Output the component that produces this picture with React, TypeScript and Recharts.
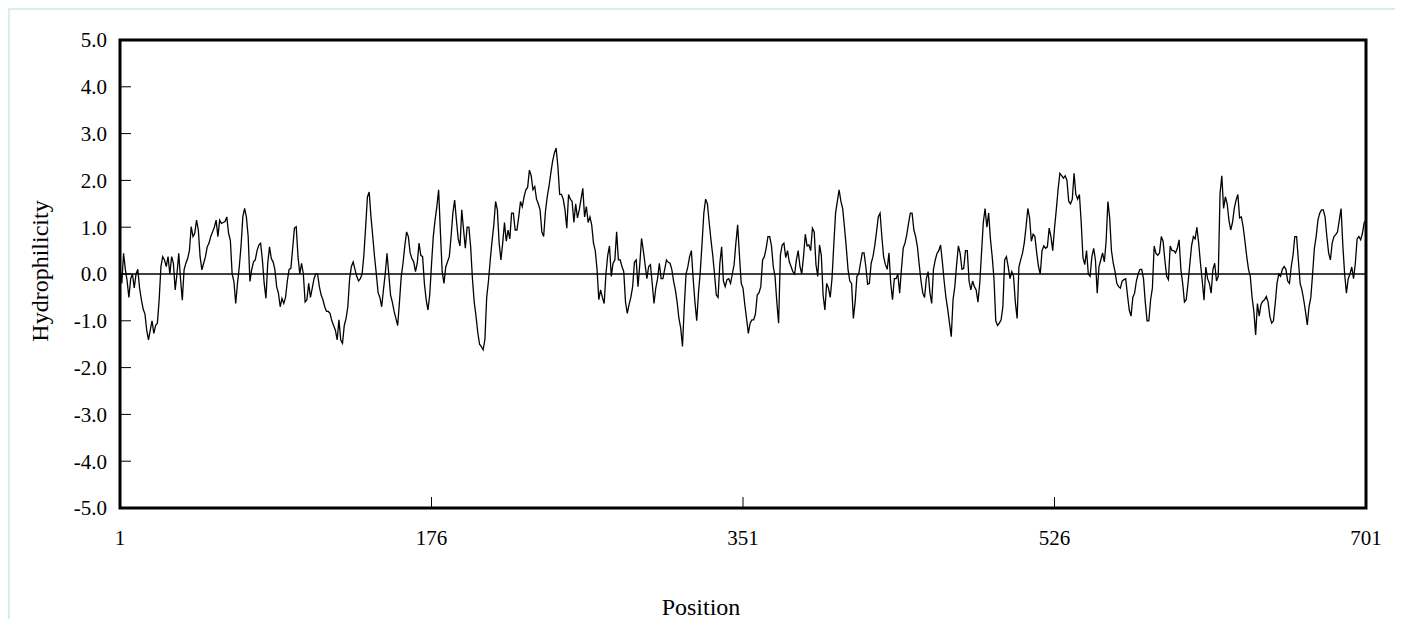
import React from "react";
import {
  LineChart,
  Line,
  XAxis,
  YAxis,
  ReferenceLine,
  ReferenceArea,
} from "recharts";

// Hydrophilicity profile, one value per residue position (1..701)
const seg001 = [
  0.1, -0.2, 0.44, 0.1, -0.15, -0.5, -0.1, 0.0, -0.3, 0.0,
  0.1, -0.3, -0.55, -0.75, -0.85, -1.2, -1.41, -1.2, -1.0, -1.27,
  -1.1, -1.05, -0.55, 0.16, 0.37, 0.3, 0.16, 0.37, 0.0, 0.37,
  0.23, -0.34, 0.0, 0.44, -0.1, -0.56, 0.09, 0.23, 0.33, 0.5,
  1.01, 0.8, 0.87, 1.15, 0.94, 0.37, 0.09, 0.23, 0.37, 0.58,
  0.66, 0.8, 0.9, 1.0, 1.15, 0.8, 1.15, 1.08, 1.1, 1.12,
  1.22, 0.87, 0.72, 0.0, -0.16, -0.63, -0.2, 0.15, 0.6, 1.22,
  1.4, 1.22, 0.8, -0.16, 0.1, 0.26, 0.3, 0.5, 0.62, 0.66,
  0.3, -0.2, -0.52, 0.23, 0.58, 0.33, 0.26, 0.1, -0.27, -0.41,
  -0.7, -0.52, -0.63, -0.5, -0.15, 0.1, 0.12, 0.55, 0.98, 1.01,
];
const seg101 = [
  0.37, 0.0, 0.23, 0.0, -0.6, -0.55, -0.2, -0.5, -0.3, -0.1,
  0.0, 0.0, -0.27, -0.45, -0.55, -0.7, -0.8, -0.8, -0.84, -1.0,
  -1.1, -1.2, -1.41, -0.98, -1.41, -1.48, -1.1, -0.95, -0.7, -0.1,
  0.16, 0.26, 0.1, -0.05, -0.15, -0.1, 0.0, 0.4, 1.0, 1.65,
  1.75, 1.22, 0.8, 0.37, 0.0, -0.4, -0.5, -0.7, -0.34, 0.0,
  0.44, 0.0, -0.45, -0.6, -0.8, -0.95, -1.1, -0.6, -0.05, 0.23,
  0.6, 0.9, 0.8, 0.45, 0.33, 0.26, 0.05, 0.23, 0.66, 0.4,
  0.37, -0.2, -0.55, -0.77, -0.45, 0.2, 0.8, 1.15, 1.44, 1.8,
  0.9, 0.05, -0.2, 0.15, 0.26, 0.37, 0.8, 1.3, 1.58, 1.15,
  0.75, 0.6, 1.37, 0.95, 0.55, 1.0, 1.0, 0.58, -0.1, -0.6,
];
const seg201 = [
  -0.9, -1.25, -1.5, -1.55, -1.62, -1.4, -0.5, -0.15, 0.3, 0.7,
  1.05, 1.55, 1.37, 0.66, 0.3, 0.66, 1.1, 0.7, 0.94, 0.75,
  1.3, 1.3, 0.94, 0.94, 1.22, 1.55, 1.44, 1.65, 1.8, 1.85,
  2.22, 2.1, 1.8, 1.87, 1.6, 1.5, 1.37, 0.9, 0.8, 1.33,
  1.65, 1.87, 2.15, 2.4, 2.58, 2.69, 2.3, 1.7, 1.7, 1.6,
  1.37, 0.98, 1.7, 1.6, 1.55, 1.1, 1.5, 1.2, 1.37, 1.6,
  1.83, 1.22, 1.44, 1.1, 1.22, 1.05, 0.66, 0.5, 0.1, -0.55,
  -0.34, -0.5, -0.63, 0.0, 0.4, 0.6, -0.05, 0.23, 0.3, 0.9,
  0.3, 0.3, 0.16, 0.05, -0.6, -0.84, -0.65, -0.5, -0.27, 0.25,
  0.3, -0.27, 0.2, 0.76, 0.5, 0.2, -0.1, 0.16, 0.2, -0.2,
];
const seg301 = [
  -0.63, -0.3, -0.1, 0.23, -0.1, -0.1, 0.1, 0.3, 0.25, 0.23,
  0.1, -0.15, -0.34, -0.6, -0.95, -1.15, -1.55, -0.7, 0.0, 0.15,
  0.37, 0.5, -0.1, -0.6, -1.0, -0.4, 0.05, 0.66, 1.3, 1.6,
  1.5, 1.1, 0.73, 0.4, 0.0, -0.45, -0.5, 0.23, 0.58, -0.15,
  -0.27, -0.12, -0.1, -0.2, 0.0, 0.2, 0.66, 1.05, 0.4, -0.2,
  -0.3, -0.65, -0.95, -1.27, -1.05, -0.98, -0.98, -0.85, -0.45, -0.4,
  -0.27, 0.3, 0.37, 0.55, 0.8, 0.8, 0.6, 0.16, -0.05, -0.6,
  -1.05, 0.4, 0.62, 0.66, 0.35, 0.5, 0.26, 0.16, 0.05, 0.0,
  0.3, 0.5, 0.16, 0.0, 0.37, 0.85, 0.6, 0.62, 0.5, 0.98,
  0.9, 0.2, -0.05, 0.62, 0.4, -0.45, -0.77, -0.2, -0.3, -0.5,
];
const seg401 = [
  -0.1, 0.62, 1.3, 1.55, 1.8, 1.55, 1.4, 1.0, 0.58, 0.1,
  -0.15, -0.2, -0.95, -0.6, -0.05, 0.0, 0.23, 0.45, 0.45, 0.16,
  -0.22, -0.2, 0.23, 0.37, 0.6, 0.9, 1.22, 1.3, 0.8, 0.37,
  0.2, 0.1, 0.45, -0.2, -0.55, -0.1, -0.1, 0.0, -0.41, 0.1,
  0.55, 0.66, 0.84, 1.08, 1.3, 1.3, 0.94, 0.8, 0.58, 0.2,
  -0.15, -0.41, -0.5, -0.1, 0.05, -0.4, -0.63, 0.1, 0.3, 0.44,
  0.5, 0.62, 0.26, -0.15, -0.5, -0.75, -1.05, -1.34, -0.55, -0.27,
  0.2, 0.6, 0.44, 0.1, 0.12, 0.5, 0.5, -0.15, -0.34, -0.15,
  -0.27, -0.34, -0.6, -0.2, 0.45, 1.1, 1.4, 1.0, 1.3, 0.75,
  0.37, -0.1, -1.0, -1.1, -1.05, -0.98, -0.7, 0.3, 0.37, 0.15,
];
const seg501 = [
  -0.1, 0.05, -0.05, -0.6, -0.95, 0.15, 0.3, 0.44, 0.66, 1.0,
  1.4, 1.2, 0.7, 0.85, 0.8, 0.45, 0.16, 0.0, 0.5, 0.6,
  0.55, 0.58, 0.98, 0.8, 0.5, 0.98, 1.37, 1.8, 2.15, 2.1,
  2.05, 2.1, 2.0, 1.55, 1.5, 1.6, 2.15, 1.7, 1.6, 1.7,
  1.1, 0.35, 0.2, 0.5, 0.0, -0.05, 0.37, 0.55, 0.3, -0.41,
  0.16, 0.3, 0.45, 0.26, 0.7, 1.55, 1.2, 0.5, 0.23, 0.05,
  -0.2, -0.27, -0.3, -0.15, -0.12, -0.1, -0.45, -0.77, -0.9, -0.5,
  -0.41, -0.15, 0.0, 0.1, 0.1, -0.1, -0.6, -1.0, -1.0, -0.55,
  -0.3, 0.6, 0.44, 0.4, 0.45, 0.8, 0.7, 0.3, -0.05, -0.12,
  0.6, 0.5, 0.5, 0.45, 0.55, 0.73, 0.1, -0.2, -0.6, -0.55,
];
const seg601 = [
  -0.2, 0.2, 0.6, 0.8, 0.75, 1.0, 0.66, 0.23, -0.15, -0.56,
  0.15, -0.1, -0.2, -0.41, 0.1, 0.23, -0.15, -0.05, 1.72, 2.1,
  1.4, 1.65, 1.5, 1.15, 0.94, 1.1, 1.4, 1.58, 1.7, 1.2,
  1.22, 1.0, 0.7, 0.37, 0.1, -0.05, -0.5, -0.8, -1.3, -0.63,
  -0.9, -0.65, -0.58, -0.55, -0.48, -0.6, -0.91, -1.05, -1.0, -0.63,
  -0.2, 0.0, -0.05, 0.1, 0.16, 0.1, -0.15, -0.2, 0.16, 0.4,
  0.8, 0.8, 0.3, -0.2, -0.34, -0.55, -0.8, -1.09, -0.7, -0.5,
  0.0, 0.55, 0.8, 1.15, 1.3, 1.37, 1.37, 1.22, 0.8, 0.45,
  0.3, 0.66, 0.8, 0.84, 0.9, 1.15, 1.4, 0.6, 0.0, -0.41,
  -0.1, 0.0, 0.15, -0.1, 0.23, 0.75, 0.8, 0.73, 0.87, 1.1, 1.15,
];

const hydrophilicity = [
  ...seg001, ...seg101, ...seg201, ...seg301, ...seg401, ...seg501, ...seg601,
];

const positionTicks = [1, 176, 351, 526, 701];
const valueTicks = [-5, -4, -3, -2, -1, 0, 1, 2, 3, 4, 5];

const data = hydrophilicity.map((value, i) => ({ position: i + 1, value }));

const FONT = "'Liberation Serif', 'Times New Roman', serif";

export default function App() {
  return (
    <div style={{ position: "relative", width: 1387, height: 611 }}>
      <div
        style={{
          position: "absolute",
          left: 0,
          top: 0,
          width: 1389,
          height: 619,
          boxSizing: "border-box",
          border: "2px solid #d7edf0",
          borderBottom: "none",
        }}
      />
      <div style={{ position: "absolute", left: -8, top: -8 }}>
        <LineChart
          width={1403}
          height={627}
          data={data}
          margin={{ top: 40, right: 37, bottom: 59, left: 0 }}
        >
          <ReferenceArea
            x1={1}
            x2={701}
            y1={-5}
            y2={5}
            fill="none"
            fillOpacity={0}
            stroke="#000"
            strokeWidth={3}
          />
          <XAxis
            dataKey="position"
            type="number"
            domain={[1, 701]}
            ticks={positionTicks}
            interval={0}
            height={60}
            axisLine={false}
            tickLine={{ stroke: "#000", strokeWidth: 1 }}
            tickSize={-11}
            tickMargin={33}
            tick={{ fill: "#000", fontSize: 21, fontFamily: FONT }}
            label={{
              content: () => (
                <text
                  x={701}
                  y={615}
                  textAnchor="middle"
                  fill="#000"
                  style={{ fontSize: 24, fontFamily: FONT }}
                >
                  Position
                </text>
              ),
            }}
          />
          <YAxis
            type="number"
            domain={[-5, 5]}
            ticks={valueTicks}
            interval={0}
            width={120}
            axisLine={false}
            tickLine={{ stroke: "#000", strokeWidth: 1 }}
            tickSize={-11}
            tickMargin={24}
            tickFormatter={(v: number) => v.toFixed(1)}
            tick={{ fill: "#000", fontSize: 21, fontFamily: FONT }}
            label={{
              content: () => (
                <text
                  x={40}
                  y={271}
                  transform="rotate(-90 40 271)"
                  textAnchor="middle"
                  dominantBaseline="central"
                  fill="#000"
                  style={{ fontSize: 24, fontFamily: FONT }}
                >
                  Hydrophilicity
                </text>
              ),
            }}
          />
          <ReferenceLine y={0} stroke="#000" strokeWidth={1.3} />
          <Line
            type="linear"
            dataKey="value"
            stroke="#000"
            strokeWidth={1.3}
            dot={false}
            isAnimationActive={false}
          />
        </LineChart>
      </div>
    </div>
  );
}
